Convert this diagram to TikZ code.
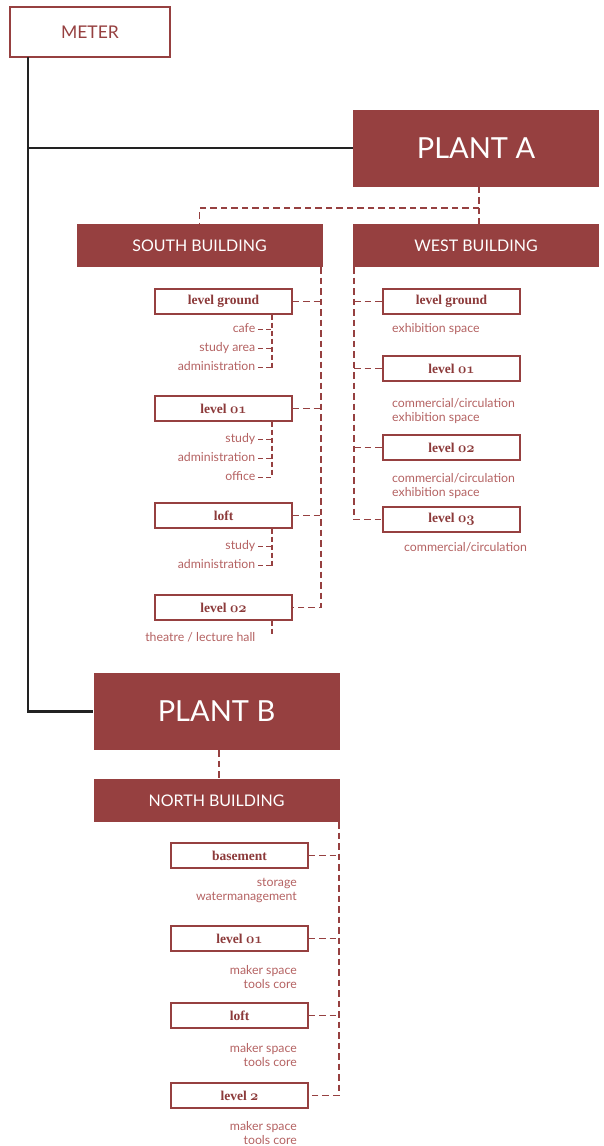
\documentclass[tikz,border=0pt]{standalone}
\usepackage{fontspec}
\setmainfont{Lato}
\newfontfamily\lvlfont{Liberation Serif}
\definecolor{brick}{RGB}{150,64,64}
\definecolor{lvltext}{RGB}{140,58,58}
\definecolor{labelred}{RGB}{180,98,98}
\definecolor{spine}{RGB}{34,34,34}
% bold old-style figures for the level numbers
\newcommand\osnum[1]{{\usefont{OML}{cmm}{b}{it}#1}}
\tikzset{
  meterbox/.style={draw=brick, line width=1.5pt, fill=white, text=brick,
    minimum width=160pt, minimum height=50pt, inner sep=0pt,
    font=\fontsize{17.5}{17.5}\selectfont},
  plantbox/.style={fill=brick, text=white, minimum width=246pt, minimum height=77pt,
    inner sep=0pt, font=\fontsize{29}{29}\selectfont},
  bldgbox/.style={fill=brick, text=white, minimum width=246pt, minimum height=43pt,
    inner sep=0pt, font=\fontsize{16}{16}\selectfont},
  lvlbox/.style={draw=brick, line width=1.2pt, text=lvltext, fill=white,
    minimum width=137pt, minimum height=25pt, inner sep=0pt,
    font=\lvlfont\bfseries\fontsize{13.5}{13.5}\selectfont},
  usage/.style={text=labelred, inner sep=0pt, text height=8.5pt, text depth=2.5pt,
    font=\fontsize{12.3}{14}\selectfont},
  usageblock/.style={text=labelred, inner sep=0pt, font=\fontsize{12.3}{14}\selectfont},
  feed/.style={draw=brick, line width=1.7pt, dash pattern=on 6.5pt off 4pt},
  tick/.style={draw=brick, line width=1.5pt, dash pattern=on 5pt off 3pt},
  trunk/.style={draw=spine, line width=2.2pt}
}
\begin{document}
\begin{tikzpicture}[x=1pt, y=-1pt]
\useasboundingbox (0,0) rectangle (604,1146);

% ---- main hierarchy ----
\node[meterbox] (meter) at (90,32) {METER};
\node[plantbox] (plantA) at (476,148) {PLANT A};
\node[plantbox] (plantB) at (216.5,711.5) {PLANT B};
\node[bldgbox] (south) at (199.5,245.5) {SOUTH BUILDING};
\node[bldgbox] (west) at (476,245.5) {WEST BUILDING};
\node[bldgbox] (north) at (216.5,800.5) {NORTH BUILDING};

% trunk from the meter to both plants
\coordinate (trunktop) at (28,57);
\draw[trunk] (trunktop) |- (plantB.west);
\draw[trunk] (trunktop |- plantA.west) -- (plantA.west);

% plant A feeds the south and west buildings
\coordinate (ja) at (479,208);
\draw[feed] (plantA.south -| ja) -- (west.north -| ja);
\draw[feed] (ja) -| (south.north);
% plant B feeds the north building
\coordinate (jb) at (219,0);
\draw[feed] (plantB.south -| jb) -- (north.north -| jb);

% ---- south building ----
\node[lvlbox] (sg) at (223.5,301.5) {level ground};
\node[lvlbox] (s1) at (223.5,408.5) {level \osnum{01}};
\node[lvlbox] (sl) at (223.5,515.5) {loft};
\node[lvlbox] (s2) at (223.5,607.5) {level \osnum{02}};
\coordinate (ssx) at (321,0);
\draw[feed] (south.south -| ssx) |- (s2.east);
\foreach \b in {sg,s1,sl} \draw[feed] (\b.east) -- (\b.east -| ssx);

\coordinate (sux) at (272,0);
\node[usage, anchor=east] (sg1) at (255.5,329.5) {cafe};
\node[usage, anchor=east] (sg2) at (255.5,348.5) {study area};
\node[usage, anchor=east] (sg3) at (255.5,367.5) {administration};
\node[usage, anchor=east] (s11) at (255.5,439.5) {study};
\node[usage, anchor=east] (s12) at (255.5,458.5) {administration};
\node[usage, anchor=east] (s13) at (255.5,477.5) {office};
\node[usage, anchor=east] (sl1) at (255.5,546.5) {study};
\node[usage, anchor=east] (sl2) at (255.5,565.5) {administration};
\node[usage, anchor=east] (s21) at (255.5,638.5) {theatre / lecture hall};

\draw[tick] (sg.south -| sux) -- (sg3.east -| sux);
\draw[tick] (s1.south -| sux) -- (s13.east -| sux);
\draw[tick] (sl.south -| sux) -- (sl2.east -| sux);
\draw[tick] (s2.south -| sux) -- ([yshift=3pt]s21.east -| sux);
\foreach \u in {sg1,sg2,sg3,s11,s12,s13,sl1,sl2}
  \draw[tick] ([xshift=2.5pt]\u.east) -- (\u.east -| sux);

% ---- west building ----
\node[lvlbox] (wg) at (451.5,301.5) {level ground};
\node[lvlbox] (w1) at (451.5,368.5) {level \osnum{01}};
\node[lvlbox] (w2) at (451.5,447.5) {level \osnum{02}};
\node[lvlbox] (w3) at (451.5,519.5) {level \osnum{03}};
\coordinate (wsx) at (354,0);
\draw[feed] (west.south -| wsx) |- (w3.west);
\foreach \b in {wg,w1,w2} \draw[feed] (\b.west -| wsx) -- (\b.west);

\node[usage, anchor=west] (wgu) at (392,329.5) {exhibition space};
\node[usageblock, anchor=west, align=left] (w1u) at (392,411)
  {commercial/circulation\\exhibition space};
\node[usageblock, anchor=west, align=left] (w2u) at (392,486)
  {commercial/circulation\\exhibition space};
\node[usage, anchor=west] (w3u) at (404,548.5) {commercial/circulation};

% ---- north building ----
\node[lvlbox] (nb) at (239.5,855.5) {basement};
\node[lvlbox] (n1) at (239.5,938.5) {level \osnum{01}};
\node[lvlbox] (nl) at (239.5,1015.5) {loft};
\node[lvlbox] (n2) at (239.5,1095.5) {level \osnum{2}};
\coordinate (nsx) at (339,0);
\draw[feed] (north.south -| nsx) |- (n2.east);
\foreach \b in {nb,n1,nl} \draw[feed] (\b.east) -- (\b.east -| nsx);

\node[usageblock, anchor=east, align=right] (nbu) at (297,890.5) {storage\\watermanagement};
\node[usageblock, anchor=east, align=right] (n1u) at (297,977.5) {maker space\\tools core};
\node[usageblock, anchor=east, align=right] (nlu) at (297,1055) {maker space\\tools core};
\node[usageblock, anchor=east, align=right] (n2u) at (297,1133) {maker space\\tools core};
\end{tikzpicture}
\end{document}
